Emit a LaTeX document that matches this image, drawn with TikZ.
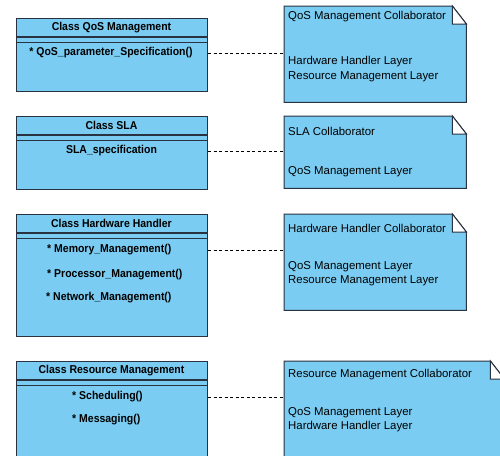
\documentclass[tikz,border=0pt]{standalone}
\usepackage{fontspec}
\setmainfont{Liberation Sans}
\newfontfamily\classfont[FakeStretch=0.92]{Liberation Sans}
\usetikzlibrary{positioning}

\definecolor{umlblue}{RGB}{122,204,242}
\definecolor{umlline}{RGB}{40,50,65}

\tikzset{
  classbox/.style={draw=umlline, fill=umlblue, line width=1.1pt, minimum width=191pt, anchor=north west, inner sep=0pt},
  classname/.style={font=\classfont\bfseries\fontsize{11.4}{13}\selectfont, inner sep=0pt},
  classop/.style={font=\classfont\bfseries\fontsize{11.4}{13}\selectfont, inner sep=0pt},
  notebox/.style={minimum width=182pt, anchor=north west, inner sep=0pt},
  notetext/.style={font=\fontsize{11.4}{13}\selectfont, anchor=west, inner sep=0pt},
  link/.style={dash pattern=on 3pt off 2.5pt, line width=0.6pt}
}

% note with a folded corner, drawn round an empty node
\newcommand{\foldnote}[1]{%
  \draw[umlline, fill=umlblue, line width=1pt] (#1.north west) -- ([xshift=-14pt]#1.north east)
    -- ([yshift=-18pt]#1.north east) -- (#1.south east) -- (#1.south west) -- cycle;
  \draw[umlline, fill=white, line width=1pt] ([xshift=-14pt]#1.north east) -- ([xshift=-14pt,yshift=-18pt]#1.north east)
    -- ([yshift=-18pt]#1.north east) -- cycle;
}
\newcommand{\classrule}[1]{%
  \draw[umlline, line width=1.1pt] ([yshift=-19pt]#1.north west) -- ([yshift=-19pt]#1.north east);
  \draw[umlline, line width=1.1pt] ([yshift=-24.5pt]#1.north west) -- ([yshift=-24.5pt]#1.north east);
}

\begin{document}
\begin{tikzpicture}[x=1pt, y=-1pt]
  \useasboundingbox (0,0) rectangle (500,455);
  \clip (0,0) rectangle (500,455);

  % classes
  \node[classbox, minimum height=73pt] (qoscls) at (16,18) {};
  \classrule{qoscls}
  \node[classname] (qosname) at (111.5,27.5) {Class QoS Management};
  \node[classop] (qosop) at (111,53) {* QoS\_parameter\_Specification()};

  \node[classbox, minimum height=73pt] (slacls) at (16,116) {};
  \classrule{slacls}
  \node[classname] (slaname) at (111.5,125.5) {Class SLA};
  \node[classop] (slaop) at (111.5,151) {SLA\_specification};

  \node[classbox, minimum height=122pt] (hwcls) at (16,214) {};
  \classrule{hwcls}
  \node[classname] (hwname) at (111.5,223.5) {Class Hardware Handler};
  \node[classop, anchor=west] (hwop) at (47,250) {* Memory\_Management()};
  \node[classop, anchor=west] (hwproc) at (47,275) {* Processor\_Management()};
  \node[classop, anchor=west] (hwnet) at (46,298) {* Network\_Management()};

  \node[classbox, minimum height=120pt] (rescls) at (16,361) {};
  \classrule{rescls}
  \node[classname] (resname) at (111.5,370.5) {Class Resource Management};
  \node[classop, anchor=west] (resop) at (72,397) {* Scheduling()};
  \node[classop, anchor=west] (resmsg) at (72,420) {* Messaging()};

  % notes
  \node[notebox, minimum height=96pt] (qosnote) at (284,6) {};
  \foldnote{qosnote}
  \node[notetext] (qostitle) at (288,17) {QoS Management Collaborator};
  \node[notetext] (qosla) at (288,62) {Hardware Handler Layer};
  \node[notetext] (qoslb) at (288,77) {Resource Management Layer};

  \node[notebox, minimum height=72pt] (slanote) at (284,116) {};
  \foldnote{slanote}
  \node[notetext] (slatitle) at (288,131) {SLA Collaborator};
  \node[notetext] (slala) at (288,172) {QoS Management Layer};

  \node[notebox, minimum height=96pt] (hwnote) at (284,214) {};
  \foldnote{hwnote}
  \node[notetext] (hwtitle) at (288,228) {Hardware Handler Collaborator};
  \node[notetext] (hwla) at (288,267) {QoS Management Layer};
  \node[notetext] (hwlb) at (288,281) {Resource Management Layer};

  \node[notebox, minimum width=220pt, minimum height=120pt] (resnote) at (284,361) {};
  \foldnote{resnote}
  \node[notetext] (restitle) at (288,375) {Resource Management Collaborator};
  \node[notetext] (resla) at (288,413) {QoS Management Layer};
  \node[notetext] (reslb) at (288,427) {Hardware Handler Layer};

  % links
  \draw[link] (qoscls.east |- qosop) -- (qosnote.west |- qosop);
  \draw[link] (slacls.east |- slaop) -- (slanote.west |- slaop);
  \draw[link] (hwcls.east |- hwop) -- (hwnote.west |- hwop);
  \draw[link] (rescls.east |- resop) -- (resnote.west |- resop);
\end{tikzpicture}
\end{document}
